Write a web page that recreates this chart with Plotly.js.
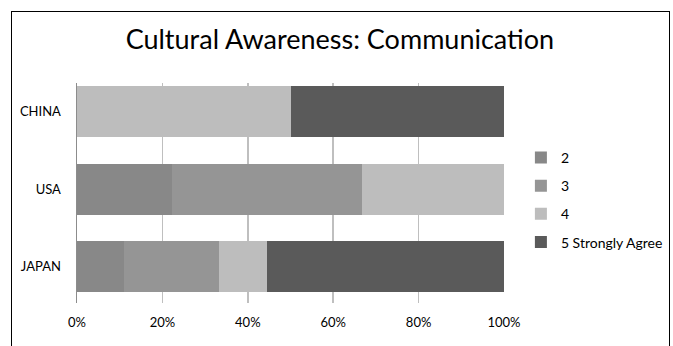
<!DOCTYPE html>
<html><head><meta charset="utf-8">
<script src="https://cdn.plot.ly/plotly-3.0.1.min.js"></script>
<style>
html,body{margin:0;padding:0;background:#fff;}
#wrap{position:relative;width:673px;height:346px;overflow:hidden;}
#chart{width:673px;height:346px;}
#frame{position:absolute;left:11px;top:11px;width:657px;height:350px;border:1.5px solid #000;pointer-events:none;}
</style></head>
<body><div id="wrap"><div id="chart"></div><div id="frame"></div></div>
<script>
const categories = ["JAPAN", "USA", "CHINA"];
const seriesNames = ["2", "3", "4", "5 Strongly Agree"];
const s2 = [11.1, 22.2, 0];
const s3 = [22.2, 44.5, 0];
const s4 = [11.1, 33.3, 50];
const s5 = [55.6, 0, 50];
const tickVals = [0, 20, 40, 60, 80, 100];
const tickText = ["0%", "20%", "40%", "60%", "80%", "100%"];
const colors = ["#888888", "#959595", "#bdbdbd", "#5a5a5a"];

const vals = [s2, s3, s4, s5];
const traces = vals.map((v, i) => ({
  type: "bar", orientation: "h", y: categories, x: v, name: seriesNames[i],
  legendgroup: "g" + i,
  marker: {color: colors[i], line: {width: 0}}, hoverinfo: "none"
}));

const layout = {
  width: 673, height: 346,
  margin: {l: 77, r: 169, t: 83, b: 43},
  paper_bgcolor: "#fff", plot_bgcolor: "#fff",
  font: {family: "Lato, 'Open Sans', sans-serif", size: 13, color: "#000"},
  title: {text: "Cultural Awareness: Communication", font: {size: 27, color: "#000"},
          x: 0.505, xanchor: "center", y: 0.885, yanchor: "middle"},
  barmode: "stack", bargap: 0.342,
  showlegend: true,
  legend: {xref: "container", yref: "container", x: 0.774, y: 0.59, xanchor: "left", yanchor: "top",
           traceorder: "grouped", font: {size: 14}, itemwidth: 30, tracegroupgap: 7, bgcolor: "rgba(0,0,0,0)"},
  xaxis: {range: [0, 100], tickvals: tickVals, ticktext: tickText, showgrid: true,
          gridcolor: "#bfbfbf", gridwidth: 1.5, zeroline: false, showline: false,
          ticks: "", ticklabelstandoff: 10, fixedrange: true},
  yaxis: {categoryorder: "array", categoryarray: categories, range: [-0.471, 2.368], autorange: false,
          showgrid: false, showline: true, linecolor: "#8c8c8c", linewidth: 1.5, ticks: "",
          ticklabelstandoff: 12, fixedrange: true}
};
Plotly.newPlot("chart", traces, layout, {displayModeBar: false, staticPlot: true});
</script></body></html>
